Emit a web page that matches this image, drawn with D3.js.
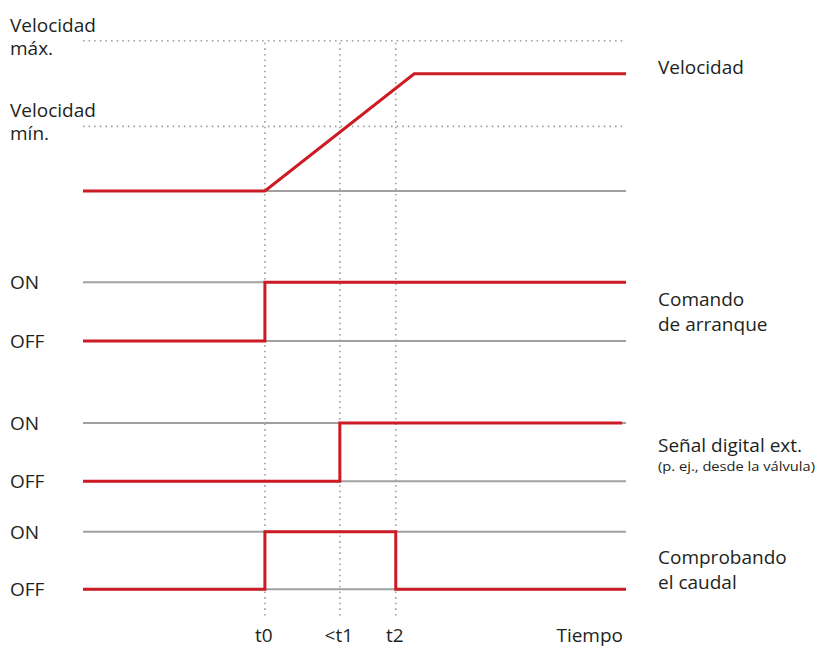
<!DOCTYPE html>
<html>
<head>
<meta charset="UTF-8">
<script src="https://cdn.jsdelivr.net/npm/d3@7"></script>
<style>
  body { margin: 0; background: #fff; }
  text { font-family: "Open Sans", Lato, sans-serif; fill: #231f20; }
  .base { stroke: #a0a0a0; stroke-width: 2px; fill: none; }
  .dot { stroke: #a0a0a0; stroke-width: 1.6px; stroke-dasharray: 1.6 4; fill: none; }
  .sig { stroke: #cc1b24; stroke-width: 3px; fill: none; stroke-linejoin: miter; }
</style>
</head>
<body>
<svg id="chart" width="819" height="648"></svg>
<script>
// time axis, arbitrary units 0..10
var timeMarks = [
  { label: "t0", t: 3.35 },
  { label: "<t1", t: 4.73 },
  { label: "t2", t: 5.76 }
];
var timeEnd = 10;

// speed (0 = stopped, 100 = max)
var speedMin = 43, speedMax = 100;
var speedPoints = [[0, 0], [3.35, 0], [6.1, 78], [10, 78]];

// digital signals, 0 = OFF, 1 = ON (step after)
var cmdPoints  = [[0, 0], [3.35, 1], [10, 1]];
var extPoints  = [[0, 0], [4.73, 1], [9.93, 1]];
var flowPoints = [[0, 0], [3.35, 1], [5.76, 0], [10, 0]];

var speedLabels = [["Velocidad", "máx."], ["Velocidad", "mín."]];
var rowNames = [
  ["Velocidad"],
  ["Comando", "de arranque"],
  ["Señal digital ext."],
  ["Comprobando", "el caudal"]
];
var extNote = "(p. ej., desde la válvula)";
var stateLabels = ["OFF", "ON"];
var axisTitle = "Tiempo";

var svg = d3.select("#chart");
var x = d3.scaleLinear().domain([0, timeEnd]).range([83, 626]);
var ySpeed = d3.scaleLinear().domain([0, 100]).range([191, 40.7]);

// digital panels: off / on pixel rows
var panels = [
  { pts: cmdPoints,  y: d3.scaleLinear().domain([0, 1]).range([341, 282.3]) },
  { pts: extPoints,  y: d3.scaleLinear().domain([0, 1]).range([481.3, 423]) },
  { pts: flowPoints, y: d3.scaleLinear().domain([0, 1]).range([589.3, 531.7]) }
];

// vertical dotted time markers
svg.selectAll(".vmark").data(timeMarks).enter().append("line")
  .attr("class", "dot")
  .attr("x1", function(d){ return x(d.t); }).attr("x2", function(d){ return x(d.t); })
  .attr("y1", ySpeed(speedMax) + 2).attr("y2", 618);

// speed reference lines
svg.selectAll(".hmark").data([speedMax, speedMin]).enter().append("line")
  .attr("class", "dot")
  .attr("x1", x(0)).attr("x2", x(timeEnd))
  .attr("y1", function(d){ return ySpeed(d); }).attr("y2", function(d){ return ySpeed(d); });

svg.append("line").attr("class", "base")
  .attr("x1", x(0)).attr("x2", x(timeEnd))
  .attr("y1", ySpeed(0)).attr("y2", ySpeed(0));

var speedLine = d3.line().x(function(d){ return x(d[0]); }).y(function(d){ return ySpeed(d[1]); });
svg.append("path").attr("class", "sig").attr("d", speedLine(speedPoints));

// speed level labels
speedLabels.forEach(function(lines, i) {
  var y0 = ySpeed(i == 0 ? speedMax : speedMin) - 9;
  var t = svg.append("text").attr("x", 10).attr("y", y0).style("font-size", "19px");
  lines.forEach(function(s, j) {
    t.append("tspan").attr("x", 10).attr("dy", j == 0 ? 0 : 23).text(s);
  });
});

// digital panels
panels.forEach(function(p) {
  [0, 1].forEach(function(v) {
    svg.append("line").attr("class", "base")
      .attr("x1", x(0)).attr("x2", x(timeEnd))
      .attr("y1", p.y(v)).attr("y2", p.y(v));
    svg.append("text").attr("x", 10).attr("y", p.y(v) + 7)
      .style("font-size", "19px").text(stateLabels[v]);
  });
  var ln = d3.line().curve(d3.curveStepAfter)
    .x(function(d){ return x(d[0]); }).y(function(d){ return p.y(d[1]); });
  svg.append("path").attr("class", "sig").attr("d", ln(p.pts));
});

// right-hand row names
var nameY = [74, 305.7, 452, 564];
rowNames.forEach(function(lines, i) {
  var t = svg.append("text").attr("x", 658).attr("y", nameY[i]).style("font-size", "19px");
  lines.forEach(function(s, j) {
    t.append("tspan").attr("x", 658).attr("dy", j == 0 ? 0 : 25).text(s);
  });
});
svg.append("text").attr("x", 658).attr("y", 471).style("font-size", "13px")
  .attr("textLength", 157).attr("lengthAdjust", "spacingAndGlyphs").text(extNote);

// time labels
svg.selectAll(".tlab").data(timeMarks).enter().append("text")
  .attr("x", function(d){ return x(d.t) - 1; }).attr("y", 642)
  .attr("text-anchor", "middle").style("font-size", "19px")
  .text(function(d){ return d.label; });
svg.append("text").attr("x", x(timeEnd) - 3).attr("y", 642)
  .attr("text-anchor", "end").style("font-size", "19px").text(axisTitle);
</script>
</body>
</html>
